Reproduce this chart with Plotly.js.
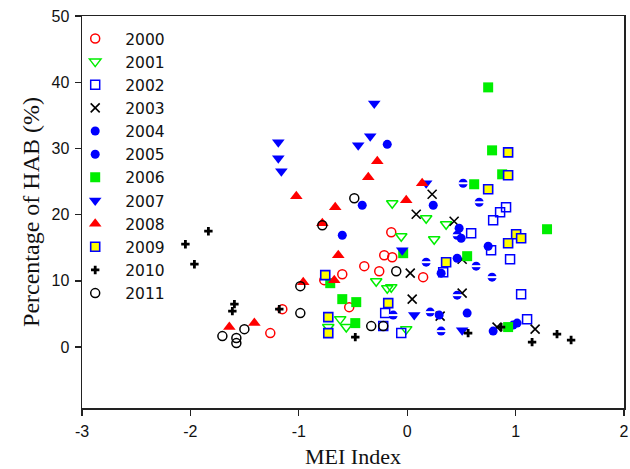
<!DOCTYPE html>
<html><head><meta charset="utf-8">
<script src="https://cdn.plot.ly/plotly-3.0.1.min.js"></script>
<style>body{margin:0;padding:0;background:#fff}#chart{width:630px;height:469px}</style>
</head><body><div id="chart"></div>
<script>
const years = ['2000','2001','2002','2003','2004','2005','2006','2007','2008','2009','2010','2011'];

const x2000 = [-0.147,-0.212,-0.138,-0.396,-0.258,0.147,-0.599,-0.765,-0.535,-1.152,-1.263];
const y2000 = [17.35,13.88,13.57,12.22,11.46,10.56,11.01,10.11,6.03,5.73,2.11];
const x2001 = [-0.055,-0.138,0.175,0.359,0.249,-0.286,-0.184,-0.147,-0.618,-0.728,-0.562,-0.009];
const y2001 = [16.74,21.72,19.46,18.55,16.29,9.95,8.90,9.05,4.22,3.02,3.02,2.71];
const x2002 = [0.912,0.857,0.793,0.590,0.774,0.949,0.332,1.051,1.106,-0.203,-0.221,-0.055];
const y2002 = [21.12,20.36,19.16,17.19,14.63,13.27,11.31,7.99,4.22,5.13,3.17,2.11];
const x2003 = [0.083,0.230,0.433,0.507,0.028,0.046,0.507,0.304,0.829,1.180];
const y2003 = [20.06,23.08,19.00,13.27,11.16,7.24,8.14,4.68,3.02,2.71];
const x2004 = [0.516,0.664,0.461,0.175,0.636,0.783,0.461,-0.129,0.212,0.313];
const y2004 = [24.74,21.87,16.89,12.82,12.22,10.56,7.84,4.83,5.28,2.41];
const x2005 = [-0.184,-0.415,-0.599,0.240,0.479,0.498,0.747,0.461,0.313,0.295,0.553,0.793,0.977,1.014];
const y2005 = [30.62,21.42,16.89,21.42,17.95,16.44,15.23,13.42,11.16,4.83,5.13,2.41,3.32,3.62];
const x2006 = [0.747,0.783,0.876,0.618,1.290,0.553,-0.037,0.931,-0.599,-0.470,-0.479,-0.710];
const y2006 = [39.22,29.71,26.09,24.59,17.80,13.73,14.18,3.02,7.24,6.79,3.62,9.65];
const x2007 = [-0.304,-0.341,-0.452,-1.189,-1.189,-1.161,0.175,-0.046,0.065,0.507];
const y2007 = [36.80,31.83,30.47,30.92,28.51,26.55,24.74,14.63,4.83,2.56];
const x2008 = [-0.276,-0.359,0.138,-1.023,-0.009,-0.664,-0.783,-0.636,-0.673,-0.959,-1.410,-1.641];
const y2008 = [28.05,25.64,24.74,22.78,22.17,21.12,18.70,13.88,10.11,9.80,3.62,3.02];
const x2009 = [0.931,0.931,0.747,1.005,1.051,0.931,0.359,-0.756,-0.175,-0.728,-0.728];
const y2009 = [29.41,25.94,23.83,17.04,16.44,15.69,12.82,10.86,6.64,4.52,2.11];
const x2010 = [-1.834,-2.046,-1.963,-1.594,-1.613,-1.180,-0.479,0.562,0.866,1.152,1.382,1.512];
const y2010 = [17.50,15.54,12.52,6.49,5.43,5.73,1.51,2.11,3.02,0.75,1.96,1.06];
const x2011 = [-0.488,-0.783,-0.986,-0.101,-0.332,-0.221,-0.986,-1.502,-1.705,-1.576,-1.576];
const y2011 = [22.47,18.40,9.20,11.46,3.17,3.17,5.13,2.71,1.66,1.36,0.60];

const xTicks = [-3,-2,-1,0,1,2];
const yTicks = [0,10,20,30,40,50];

const RED='#ff0000', GREEN='#00ee00', BLUE='#0000ff', BLK='#000000';
function tr(name,x,y,marker,extra){return Object.assign({type:'scatter',mode:'markers',name:name,x:x,y:y,marker:marker,cliponaxis:false},extra||{});}
const data = [
 tr(years[0],x2000,y2000,{symbol:'circle-open',size:9,color:RED,line:{width:1.5}}),
 tr(years[1],x2001,y2001,{symbol:'triangle-down-open',size:10,color:GREEN,line:{width:1.5}}),
 tr(years[2],x2002,y2002,{symbol:'square-open',size:9,color:BLUE,line:{width:1.5}}),
 tr(years[3],x2003,y2003,{symbol:'x-thin-open',size:9,color:BLK,line:{width:1.6,color:BLK}}),
 tr(years[4],x2004,y2004,{symbol:'circle',size:9,color:BLUE,line:{width:0}}),
 tr(years[4]+'w',x2004,y2004,{symbol:'line-ew',size:7,color:'#ffffff',line:{width:2,color:'#ffffff'}},{showlegend:false}),
 tr(years[5],x2005,y2005,{symbol:'circle',size:9,color:BLUE,line:{width:0}}),
 tr(years[6],x2006,y2006,{symbol:'square',size:10,color:GREEN,line:{width:0}}),
 tr(years[7],x2007,y2007,{symbol:'triangle-down',size:11,color:BLUE,line:{width:0}}),
 tr(years[8],x2008,y2008,{symbol:'triangle-up',size:11,color:RED,line:{width:0}}),
 tr(years[9],x2009,y2009,{symbol:'square',size:9,color:'#ffff00',line:{width:1.6,color:BLUE}}),
 tr(years[10],x2010,y2010,{symbol:'cross',size:7,color:BLK,line:{width:0}}),
 tr(years[11],x2011,y2011,{symbol:'circle-open',size:9,color:BLK,line:{width:1.5}})
];

const layout = {
 width:630,height:469,
 margin:{l:82,r:6,t:16,b:61},
 paper_bgcolor:'#ffffff',plot_bgcolor:'#ffffff',
 showlegend:true,
 legend:{x:-0.031,y:0.985,xanchor:'left',yanchor:'top',bgcolor:'rgba(0,0,0,0)',borderwidth:0,
   font:{family:'DejaVu Sans, sans-serif',size:15.5,color:'#111'},itemwidth:50,tracegroupgap:0},
 xaxis:{range:[-3,2],tickvals:xTicks,ticktext:xTicks.map(String),ticks:'outside',ticklen:6,tickwidth:1.3,tickcolor:'#222',
   showline:true,linecolor:'#222',linewidth:1.5,mirror:true,showgrid:false,zeroline:false,ticklabelstandoff:2,
   tickfont:{family:'Liberation Sans, Arial, sans-serif',size:16,color:'#111'},
   title:{text:'MEI Index',font:{family:'Liberation Serif, Times New Roman, serif',size:22,color:'#111'},standoff:12}},
 yaxis:{range:[-9.2,50],tickvals:yTicks,ticktext:yTicks.map(String),ticks:'outside',ticklen:6,tickwidth:1.3,tickcolor:'#222',
   showline:true,linecolor:'#222',linewidth:1.5,mirror:true,showgrid:false,zeroline:false,ticklabelstandoff:2,
   tickfont:{family:'Liberation Sans, Arial, sans-serif',size:16,color:'#111'},
   title:{text:'Percentage of HAB (%)',font:{family:'Liberation Serif, Times New Roman, serif',size:24,color:'#111'},standoff:5}}
};
Plotly.newPlot('chart',data,layout,{displayModeBar:false,staticPlot:true});
</script></body></html>
